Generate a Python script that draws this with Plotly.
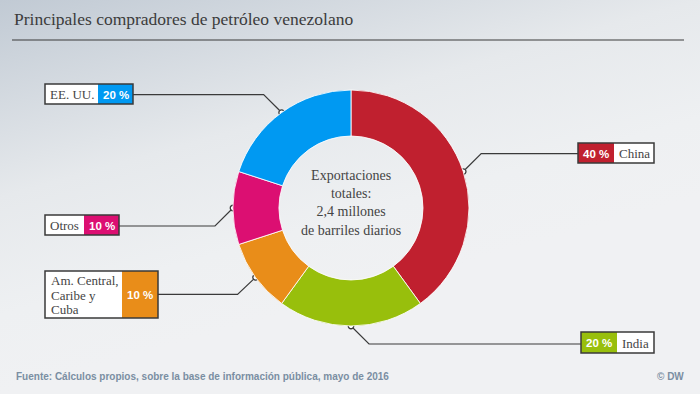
import math, base64
import plotly.graph_objects as go

# ---------------- data ----------------
categories = ["China", "India", "Am. Central,<br>Caribe y<br>Cuba", "Otros", "EE. UU."]
values = [40, 20, 10, 10, 20]
pct_labels = ["40 %", "20 %", "10 %", "10 %", "20 %"]
colors = ["#c0202f", "#98bf0c", "#e98d19", "#dc0f72", "#0099f2"]

title = "Principales compradores de petróleo venezolano"
center_text = "Exportaciones<br>totales:<br>2,4 millones<br>de barriles diarios"
source = "Fuente: Cálculos propios, sobre la base de información pública, mayo de 2016"
credit = "© DW"

W, H = 700, 394
CX, CY, R = 351, 208, 118
HOLE = 0.61

# label box layout
boxes = [
    dict(wx=(614, 654), cx=(578, 614), y=(143, 163), d=(18, -18), edge=578),   # China
    dict(wx=(617, 654), cx=(581, 617), y=(332, 353), d=(18, 18), edge=581),     # India
    dict(wx=(45, 122), cx=(122, 158), y=(271, 318), d=(-18, 17), edge=158),     # Am. Central
    dict(wx=(45, 84), cx=(84, 119), y=(215, 235), d=(-18, 18), edge=119),       # Otros
    dict(wx=(45, 98), cx=(98, 133), y=(84, 104), d=(-18, -18), edge=133),       # EE. UU.
]

SERIF = "Liberation Serif, Georgia, serif"
SANS = "Liberation Sans, Arial, sans-serif"

svg = f'''<svg xmlns="http://www.w3.org/2000/svg" width="{W}" height="{H}" viewBox="0 0 {W} {H}" preserveAspectRatio="none">
<defs><linearGradient id="g" x1="0" y1="0" x2="0.4" y2="0.8">
<stop offset="0" stop-color="#c1cad4"/><stop offset="0.5" stop-color="#e6e9ec"/>
<stop offset="0.8" stop-color="#eef0f2"/><stop offset="1" stop-color="#f0f1f3"/></linearGradient></defs>
<rect width="{W}" height="{H}" fill="url(#g)"/></svg>'''
bg_src = "data:image/svg+xml;base64," + base64.b64encode(svg.encode()).decode()

fig = go.Figure()

fig.add_trace(go.Pie(
    values=values, labels=[c.replace("<br>", " ") for c in categories],
    marker=dict(colors=colors, line=dict(color="rgba(255,255,255,0.85)", width=1)),
    hole=HOLE, sort=False, direction="clockwise", rotation=0,
    textinfo="none", hoverinfo="label+percent", showlegend=False,
    domain=dict(x=[(CX - R) / W, (CX + R) / W], y=[1 - (CY + R) / H, 1 - (CY - R) / H]),
))

shapes = []
annotations = []
total = sum(values)
cum = 0
for i, v in enumerate(values):
    mid = (cum + v / 2) / total * 2 * math.pi
    cum += v
    mx = CX + R * math.sin(mid)
    my = CY - R * math.cos(mid)
    b = boxes[i]
    ex, ey = mx + b["d"][0], my + b["d"][1]
    fig.add_trace(go.Scatter(x=[b["edge"], ex, mx], y=[ey, ey, my], mode="lines",
                             line=dict(color="#3a3a3a", width=1.2), hoverinfo="skip",
                             showlegend=False, xaxis="x", yaxis="y"))
    fig.add_trace(go.Scatter(x=[mx], y=[my], mode="markers",
                             marker=dict(size=5.5, color="white", line=dict(color="#3a3a3a", width=1.3)),
                             hoverinfo="skip", showlegend=False, xaxis="x", yaxis="y"))
    y0, y1 = b["y"]
    shapes.append(dict(type="rect", xref="x", yref="y", x0=b["wx"][0], x1=b["wx"][1], y0=y0, y1=y1,
                       fillcolor="white", line=dict(width=0), layer="above"))
    shapes.append(dict(type="rect", xref="x", yref="y", x0=b["cx"][0], x1=b["cx"][1], y0=y0, y1=y1,
                       fillcolor=colors[i], line=dict(width=0), layer="above"))
    bx0 = min(b["wx"][0], b["cx"][0]); bx1 = max(b["wx"][1], b["cx"][1])
    shapes.append(dict(type="rect", xref="x", yref="y", x0=bx0, x1=bx1, y0=y0, y1=y1,
                       fillcolor="rgba(0,0,0,0)", line=dict(color="#3a3a3a", width=1.5), layer="above"))
    ym = (y0 + y1) / 2
    lines = categories[i].split("<br>")
    n = len(lines)
    for k, ln in enumerate(lines):
        yy = ym + (k - (n - 1) / 2) * 14.5 + 0.5
        if n > 1:
            annotations.append(dict(x=b["wx"][0] + 4, y=yy, xref="x", yref="y", text=ln,
                                    showarrow=False, xanchor="left", yanchor="middle",
                                    font=dict(family=SERIF, size=13, color="#444")))
        else:
            annotations.append(dict(x=(b["wx"][0] + b["wx"][1]) / 2, y=yy, xref="x", yref="y",
                                    text=ln, showarrow=False, xanchor="center", yanchor="middle",
                                    font=dict(family=SERIF, size=13, color="#444")))
    annotations.append(dict(x=(b["cx"][0] + b["cx"][1]) / 2, y=ym + 0.5, xref="x", yref="y",
                            text="<b>" + pct_labels[i] + "</b>", showarrow=False,
                            xanchor="center", yanchor="middle",
                            font=dict(family=SANS, size=11.5, color="white")))

# title, rule, center text, footer
annotations.append(dict(x=12, y=31, xref="x", yref="y", text=title, showarrow=False,
                        xanchor="left", yanchor="bottom", font=dict(family=SERIF, size=17.5, color="#3c3c3c")))
shapes.append(dict(type="line", xref="x", yref="y", x0=12, x1=684, y0=40, y1=40,
                   line=dict(color="#3a3a3a", width=1.2)))
annotations.append(dict(x=CX, y=CY - 5, xref="x", yref="y", text=center_text, showarrow=False,
                        xanchor="center", yanchor="middle",
                        font=dict(family=SERIF, size=14, color="#444")))
annotations.append(dict(x=14, y=376, xref="x", yref="y", text="<b>" + source + "</b>", showarrow=False,
                        xanchor="left", yanchor="middle", font=dict(family=SANS, size=10, color="#7a8ea2")))
annotations.append(dict(x=686, y=376, xref="x", yref="y", text="<b>" + credit + "</b>", showarrow=False,
                        xanchor="right", yanchor="middle", font=dict(family=SANS, size=10, color="#7a8ea2")))

fig.update_layout(
    width=W, height=H, margin=dict(l=0, r=0, t=0, b=0),
    paper_bgcolor="#e8ebee", plot_bgcolor="rgba(0,0,0,0)",
    xaxis=dict(range=[0, W], visible=False, fixedrange=True, domain=[0, 1]),
    yaxis=dict(range=[H, 0], visible=False, fixedrange=True, domain=[0, 1]),
    shapes=shapes, annotations=annotations,
    images=[dict(source=bg_src, xref="paper", yref="paper", x=0, y=1, sizex=1, sizey=1,
                 xanchor="left", yanchor="top", sizing="stretch", layer="below")],
    showlegend=False,
)

fig.write_html("out.html", config={"displayModeBar": False},
               post_script="document.body.style.margin='0';")
